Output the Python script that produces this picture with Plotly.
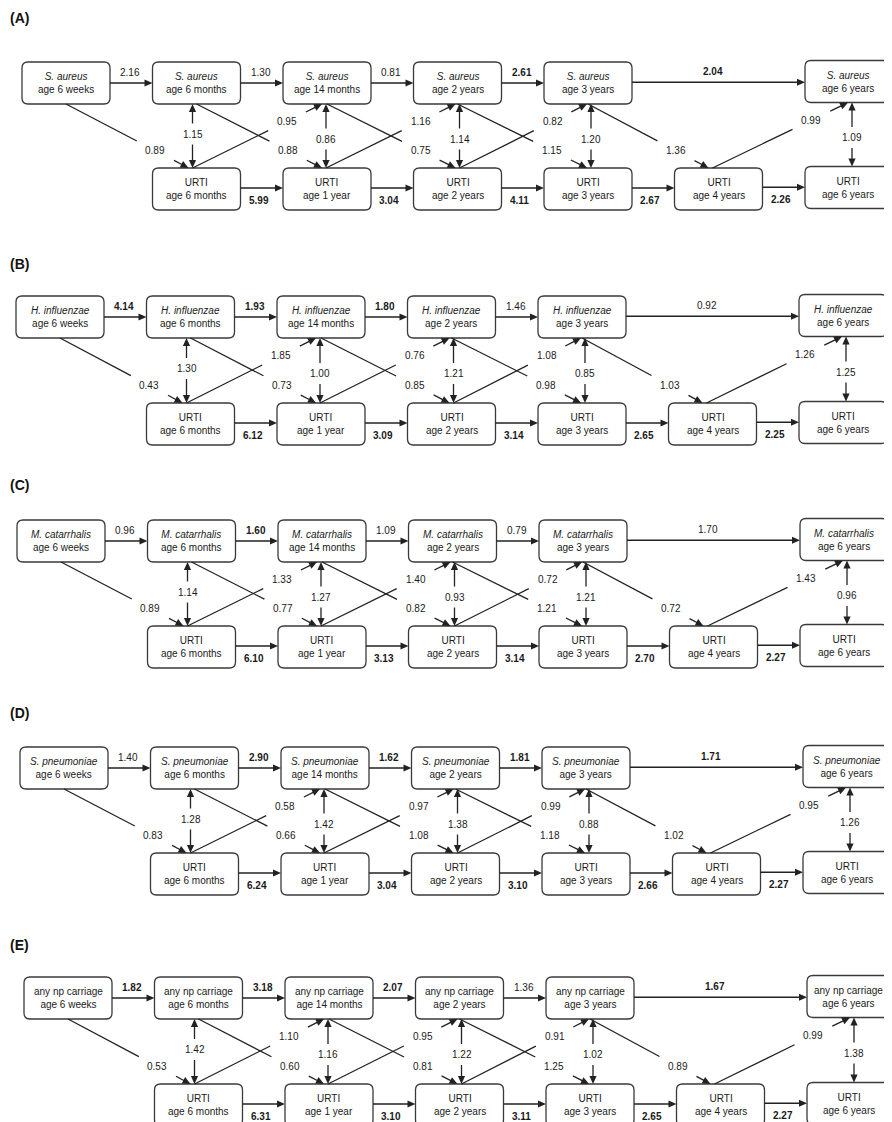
import math
import plotly.graph_objects as go

# ---------------- data ----------------
panel_tags = ["(A)", "(B)", "(C)", "(D)", "(E)"]
organisms = ["S. aureus", "H. influenzae", "M. catarrhalis", "S. pneumoniae", "any np carriage"]
organism_italic = [True, True, True, True, False]
carriage_ages = ["age 6 weeks", "age 6 months", "age 14 months", "age 2 years", "age 3 years", "age 6 years"]
urti_ages = ["age 6 months", "age 1 year", "age 2 years", "age 3 years", "age 4 years", "age 6 years"]

# carriage -> carriage (top row, horizontal)
carriage_stability = [
    [2.16, 1.30, 0.81, 2.61, 2.04],
    [4.14, 1.93, 1.80, 1.46, 0.92],
    [0.96, 1.60, 1.09, 0.79, 1.70],
    [1.40, 2.90, 1.62, 1.81, 1.71],
    [1.82, 3.18, 2.07, 1.36, 1.67],
]
carriage_stability_sig = [
    [0, 0, 0, 1, 1],
    [1, 1, 1, 0, 0],
    [0, 1, 0, 0, 0],
    [0, 1, 1, 1, 1],
    [1, 1, 1, 0, 1],
]
# URTI -> URTI (bottom row, horizontal), all significant
urti_stability = [
    [5.99, 3.04, 4.11, 2.67, 2.26],
    [6.12, 3.09, 3.14, 2.65, 2.25],
    [6.10, 3.13, 3.14, 2.70, 2.27],
    [6.24, 3.04, 3.10, 2.66, 2.27],
    [6.31, 3.10, 3.11, 2.65, 2.27],
]
# cross-sectional associations (vertical, double-headed)
cross_sectional = [
    [1.15, 0.86, 1.14, 1.20, 1.09],
    [1.30, 1.00, 1.21, 0.85, 1.25],
    [1.14, 1.27, 0.93, 1.21, 0.96],
    [1.28, 1.42, 1.38, 0.88, 1.26],
    [1.42, 1.16, 1.22, 1.02, 1.38],
]
# carriage(t) -> URTI(t+1)
carriage_to_urti = [
    [0.89, 0.88, 0.75, 1.15, 1.36],
    [0.43, 0.73, 0.85, 0.98, 1.03],
    [0.89, 0.77, 0.82, 1.21, 0.72],
    [0.83, 0.66, 1.08, 1.18, 1.02],
    [0.53, 0.60, 0.81, 1.25, 0.89],
]
# URTI(t) -> carriage(t+1)
urti_to_carriage = [
    [0.95, 1.16, 0.82, 0.99],
    [1.85, 0.76, 1.08, 1.26],
    [1.33, 1.40, 0.72, 1.43],
    [0.58, 0.97, 0.99, 0.95],
    [1.10, 0.95, 0.91, 0.99],
]

# ---------------- layout geometry ----------------
W, H = 892, 1122
PAGE_MARGIN = 8  # default body margin of the html page
label_y = [18, 264, 485, 713, 945]
top_y = [83, 317, 541, 768, 998]
bot_y = [189, 424, 647, 874, 1105]
left_x = [22, 16, 17, 20, 24]
STEP = 130.5
BW, BH = 88, 42
RIGHT_LIMIT = 890
R = 6
TOP_COLS = [0, 1, 2, 3, 4, 6]
BOT_COLS = [1, 2, 3, 4, 5, 6]
TOP_PAIRS = [(0, 1), (1, 2), (2, 3), (3, 4), (4, 6)]
BOT_PAIRS = [(1, 2), (2, 3), (3, 4), (4, 5), (5, 6)]
VERT_COLS = [1, 2, 3, 4, 6]
DOWN_FROM = [0, 1, 2, 3, 4]
UP_FROM = [1, 2, 3, 5]
VOFF = [0, -4, -1, 2, 3, -6, 3]
COL_DY = [0, 0, 0, 0, 0, 0, -1.5]

LINE_C = "#222222"
BOX_C = "#3a3a3a"
TXT_C = "#1a1a1a"
LW = 1.3
HL, HW = 8, 3.6
FONT = "Arial, Liberation Sans, sans-serif"

shapes = []
annotations = []


def seg(x1, y1, x2, y2):
    shapes.append(dict(type="line", xref="x", yref="y", x0=x1, y0=y1, x1=x2, y1=y2,
                       line=dict(color=LINE_C, width=LW), layer="above"))


def head(tx, ty, ux, uy):
    bx, by = tx - ux * HL, ty - uy * HL
    nx, ny = -uy, ux
    p = (f"M {tx},{ty} L {bx + nx * HW},{by + ny * HW} "
         f"L {bx - nx * HW},{by - ny * HW} Z")
    shapes.append(dict(type="path", xref="x", yref="y", path=p,
                       fillcolor=LINE_C, line=dict(width=0), layer="above"))


def arrow(x1, y1, x2, y2, both=False, gap_at=None, gap_half=0.0):
    dx, dy = x2 - x1, y2 - y1
    L = math.hypot(dx, dy)
    ux, uy = dx / L, dy / L
    sx, sy = x1, y1
    ex, ey = x2 - ux * (HL - 1), y2 - uy * (HL - 1)
    head(x2, y2, ux, uy)
    if both:
        sx, sy = x1 + ux * (HL - 1), y1 + uy * (HL - 1)
        head(x1, y1, -ux, -uy)
    if gap_at is not None:
        t = gap_at * L
        seg(sx, sy, x1 + ux * (t - gap_half), y1 + uy * (t - gap_half))
        seg(x1 + ux * (t + gap_half), y1 + uy * (t + gap_half), ex, ey)
        return x1 + ux * t, y1 + uy * t
    seg(sx, sy, ex, ey)
    return None


def text(x, y, s, size=10, bold=False):
    if bold:
        s = f"<b>{s}</b>"
    annotations.append(dict(x=x, y=y, xref="x", yref="y", text=s, showarrow=False,
                            font=dict(family=FONT, size=size, color=TXT_C),
                            xanchor="center", yanchor="middle"))


def box(cx, cy, s):
    x0 = cx - BW / 2
    x1 = min(cx + BW / 2, RIGHT_LIMIT)
    y0, y1 = cy - BH / 2, cy + BH / 2
    p = (f"M {x0 + R},{y0} L {x1 - R},{y0} Q {x1},{y0} {x1},{y0 + R} "
         f"L {x1},{y1 - R} Q {x1},{y1} {x1 - R},{y1} L {x0 + R},{y1} "
         f"Q {x0},{y1} {x0},{y1 - R} L {x0},{y0 + R} Q {x0},{y0} {x0 + R},{y0} Z")
    shapes.append(dict(type="path", xref="x", yref="y", path=p, fillcolor="white",
                       line=dict(color=BOX_C, width=LW), layer="above"))
    text((x0 + x1) / 2, cy, s)


for p in range(5):
    cx = [left_x[p] + BW / 2 + i * STEP for i in range(7)]
    vx = [cx[i] + VOFF[i] for i in range(7)]
    ty = [top_y[p] + COL_DY[i] for i in range(7)]
    by = [bot_y[p] + COL_DY[i] for i in range(7)]

    annotations.append(dict(x=8, y=label_y[p], xref="x", yref="y", text=f"<b>{panel_tags[p]}</b>",
                            showarrow=False, xanchor="left", yanchor="middle",
                            font=dict(family=FONT, size=14, color="#111111")))

    org = f"<i>{organisms[p]}</i>" if organism_italic[p] else organisms[p]
    for k, c in enumerate(TOP_COLS):
        box(cx[c], ty[c], f"{org}<br>{carriage_ages[k]}")
    for k, c in enumerate(BOT_COLS):
        box(cx[c], by[c], f"URTI<br>{urti_ages[k]}")

    # top horizontal arrows
    for k, (a, b) in enumerate(TOP_PAIRS):
        y = (ty[a] + ty[b]) / 2
        xa, xb = cx[a] + BW / 2, cx[b] - BW / 2
        arrow(xa, y, xb, y)
        lx = (xa + xb) / 2 - (6 if b - a > 1 else 1)
        text(lx, y - 11, f"{carriage_stability[p][k]:.2f}", bold=bool(carriage_stability_sig[p][k]))

    # bottom horizontal arrows
    for k, (a, b) in enumerate(BOT_PAIRS):
        y = (by[a] + by[b]) / 2 - 1
        xa, xb = cx[a] + BW / 2, cx[b] - BW / 2
        arrow(xa, y, xb, y)
        text((xa + xb) / 2 - 3, y + 12, f"{urti_stability[p][k]:.2f}", bold=True)

    # vertical double-headed arrows
    for k, c in enumerate(VERT_COLS):
        y1 = ty[c] + BH / 2
        y2 = by[c] - BH / 2
        frac = (0.5 - 2 / (y2 - y1)) if c == 1 else (0.5 + 3 / (y2 - y1))
        lx, ly = arrow(vx[c], y1, vx[c], y2, both=True, gap_at=frac, gap_half=10.5)
        text(lx, ly, f"{cross_sectional[p][k]:.2f}")

    # carriage(t) -> URTI(t+1)
    for k, c in enumerate(DOWN_FROM):
        x1, y1 = cx[c], ty[c] + BH / 2
        x2, y2 = vx[c + 1] - 4, by[c + 1] - BH / 2
        lx, ly = arrow(x1, y1, x2, y2, gap_at=0.73, gap_half=21)
        text(lx, ly, f"{carriage_to_urti[p][k]:.2f}")

    # URTI(t) -> carriage(t+1)
    for k, c in enumerate(UP_FROM):
        x1, y1 = vx[c], by[c] - BH / 2
        x2, y2 = vx[c + 1] - 4, ty[c + 1] + BH / 2
        lx, ly = arrow(x1, y1, x2, y2, gap_at=0.73, gap_half=21)
        text(lx, ly, f"{urti_to_carriage[p][k]:.2f}")

fig = go.Figure()
fig.add_trace(go.Scatter(x=[PAGE_MARGIN, W], y=[PAGE_MARGIN, H], mode="markers",
                         marker=dict(opacity=0), hoverinfo="skip", showlegend=False))
fig.update_layout(
    width=W - PAGE_MARGIN, height=H - PAGE_MARGIN, margin=dict(l=0, r=0, t=0, b=0),
    paper_bgcolor="white", plot_bgcolor="white",
    xaxis=dict(range=[PAGE_MARGIN, W], visible=False, fixedrange=True),
    yaxis=dict(range=[H, PAGE_MARGIN], visible=False, fixedrange=True),
    shapes=shapes, annotations=annotations, showlegend=False,
)
fig.write_html("out.html")
